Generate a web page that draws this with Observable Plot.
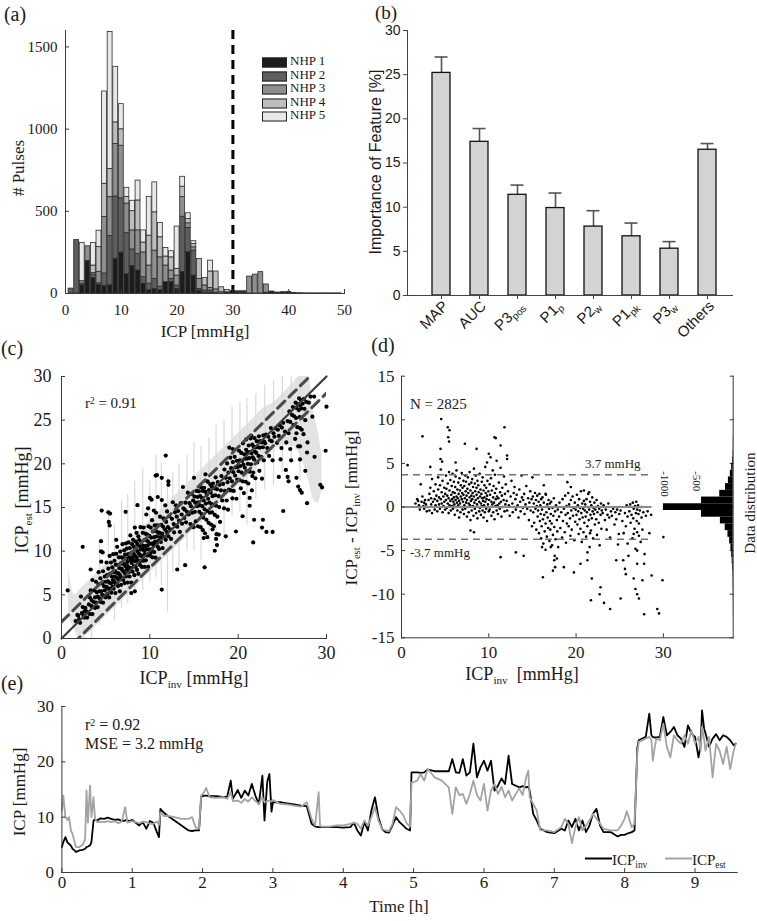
<!DOCTYPE html>
<html>
<head>
<meta charset="utf-8">
<script src="https://cdn.jsdelivr.net/npm/d3@7"></script>
<script src="https://cdn.jsdelivr.net/npm/@observablehq/plot@0.6"></script>
<style>
  html,body{margin:0;padding:0;background:#fff;}
  #fig{position:relative;width:757px;height:921px;overflow:hidden;background:#fff;color:#1a1a1a;}
  #fig svg{position:absolute;}
  .lbl{position:absolute;white-space:nowrap;line-height:1;color:#1a1a1a;}
  .lbl sub{font-size:0.62em;vertical-align:baseline;position:relative;top:0.32em;}
  .lbl sup{font-size:0.62em;vertical-align:baseline;position:relative;top:-0.45em;}
</style>
</head>
<body>
<div id="fig"></div>
<script>
// ---------------- DATA ----------------
// (a) histogram of ICP per animal (bins centred on 1..49 mmHg)
const seriesNames = ["NHP 1","NHP 2","NHP 3","NHP 4","NHP 5"];
const seriesColors = ["#1c1c1c","#5e5e5e","#8f8f8f","#bebebe","#e8e8e8"];
const histBins = [1,2,3,4,5,6,7,8,9,10,11,12,13,14,15,16,17,18,19,20,21,22,23,24,25,26,27,28,29,30,31,32,33,34,35,36,37,38,39,40,41,42,43,44,45,46,47,48,49];
const nhp1 = [0,0,50,198,95,52,47,50,212,249, 117,168,140,60,20,28,20,69,69,28, 130,251,109,18,5,5,5,0,7,14, 6,6,0,0,0,5,12,6,8,10, 4,2,1,1,1,1,1,1,1];
const nhp2 = [30,325,10,0,20,10,75,300,378,330, 250,100,100,40,40,61,22,0,20,20, 337,148,152,10,13,13,0,0,0,0, 0,0,0,0,0,0,0,0,0,0, 0,0,0,0,0,0,0,0,0];
const nhp3 = [0,0,15,89,10,70,344,236,320,320, 180,116,144,150,110,172,178,101,51,61, 120,28,20,60,31,16,20,8,0,0, 4,4,103,115,130,50,0,0,0,0, 0,0,0,0,0,0,0,0,0];
const nhp4 = [0,0,0,0,45,150,202,172,131,100, 40,117,182,60,182,233,122,55,80,41, 63,26,20,122,46,100,109,30,15,0, 4,4,0,0,0,0,0,0,0,0, 0,0,0,0,0,0,0,0,0];
const nhp5 = [0,0,233,0,138,100,561,833,338,153, 56,63,121,74,236,182,87,52,37,257, 60,35,17,0,0,66,0,0,0,0, 0,0,0,0,0,0,0,0,0,0, 0,0,0,0,0,0,0,0,0];
const histXTicks = [0,10,20,30,40,50];
const histYTicks = [0,500,1000,1500];
const icpThreshold = 30;

// (b) feature importance
const featureKeys = ["MAP","AUC","P3pos","P1p","P2w","P1pk","P3w","Others"];
const featureBase = ["MAP","AUC","P3","P1","P2","P1","P3","Others"];
const featureSub  = ["","","pos","p","w","pk","w",""];
const importance    = [25.2,17.4,11.4,9.9,7.8,6.7,5.3,16.5];
const importanceErr = [1.8,1.5,1.1,1.7,1.8,1.5,0.8,0.7];
const importanceTicks = [0,5,10,15,20,25,30];

// (c)/(d) test pulses: [ICP_inv, ICP_est - ICP_inv]
const icpPairs = [
 [2.4,8.1],[4.55,10.1],[5.3,9.15],[5.5,8.8],[5.35,8.0],[5.45,7.5],[7.26,7.25],[4.47,6.67],[8.6,6.67],[10.66,8.0],
 [11.35,7.05],[11.8,9.15],[10.8,7.9],[12.1,5.9],[12.1,5.5],[10.0,6.1],[10.2,5.7],[9.8,5.1],[3.3,4.6],[4.47,5.5],
 [4.66,5.2],[6.2,5.1],[0.7,4.8],[15,3.4],[16.3,2.5],[19,2.85],[16.5,1.5],[19.4,2.3],[20.9,1.9],[21.5,1.7],
 [7.9,-2.7],[8.3,-2.9],[11.35,-5.75],[13.1,-5.2],[14.0,-5.6],[16.2,-8.05],[17.35,-7.3],[17.6,-6.9],[18.6,-6.9],[17.5,-6.1],
 [17.8,-5.9],[17.1,-4.6],[16.1,-4.6],[19.75,-7.5],[20.5,-6.5],[21.3,-6.1],[21.8,-8.2],[21.7,-10.7],[22.8,-9.2],[22.7,-10],
 [23.2,-11],[23.9,-11.7],[24.6,-6.1],[25.1,-10.5],[25.4,-6.1],[25.7,-7.7],[25.6,-7.1],[26.6,-8.2],[26.8,-9.4],[27,-10],
 [27.2,-10.5],[27,-6.5],[27.8,-6.5],[27.6,-8.4],[27.8,-12.3],[28.65,-7.85],[29.3,-11.7],[29.5,-12.2],[29.9,-8.4],[30,-3.45],
 [25.9,-4.2],[26.6,-3.1],[27.2,-3.3],[27,-5],[24.9,-3.1],
 [1.6,0.4],[1.8,0.9],[2.0,0.2],[2.1,-0.3],[2.3,0.6],[2.4,1.2],[2.5,0.1],[2.6,-0.2],[2.7,0.8],[2.8,0.3],[2.9,-0.5],[2.2,2.6],[1.9,0.7],[2.6,0.5],[3.0,0.0],
 [3.1,0.8],[3.2,1.5],[3.2,-0.4],[3.3,2.2],[3.4,0.3],[3.4,1.0],[3.5,-0.7],[3.5,3.2],[3.6,0.6],[3.7,1.8],[3.8,-0.3],[3.8,0.9],[3.9,2.6],[3.9,0.2],[4.0,1.3],
 [4.1,-0.5],[4.1,0.7],[4.2,2.0],[4.2,3.4],[4.3,0.3],[4.3,1.1],[4.4,-0.2],[4.4,2.5],[4.5,0.9],[4.5,4.3],[4.6,0.4],[4.6,1.7],[4.7,-0.6],[4.7,3.0],[4.8,1.2],[4.8,0.1],[4.9,2.2],[4.9,0.6],[5.0,-0.3],[5.0,1.5],
 [5.1,0.8],[5.1,3.6],[5.15,2.1],[5.2,-0.1],[5.25,1.3],[5.3,0.4],[5.3,2.7],[5.4,-0.7],[5.4,1.0],[5.45,4.0],[5.5,0.2],[5.5,1.9],[5.6,0.7],[5.6,3.1],[5.65,-0.4],[5.7,1.4],[5.75,2.4],[5.8,0.1],[5.8,0.9],[5.85,3.8],[5.9,1.7],[5.9,-0.2],[5.95,0.6],[6.0,2.9],[6.0,1.1],
 [6.05,0.3],[6.1,1.6],[6.1,-0.9],[6.15,2.3],[6.2,0.8],[6.2,3.5],[6.25,0.0],[6.3,1.2],[6.3,4.2],[6.35,0.5],[6.4,2.0],[6.4,-0.4],[6.45,1.0],[6.5,2.8],[6.5,0.2],[6.55,1.5],[6.6,-1.2],[6.6,0.7],[6.65,3.3],[6.7,1.9],[6.7,0.4],[6.75,-0.6],[6.8,1.2],[6.8,2.5],[6.85,0.0],[6.9,3.9],[6.9,0.9],[6.95,1.6],[7.0,-0.3],[7.0,2.2],
 [7.05,0.6],[7.1,1.4],[7.1,3.0],[7.15,-0.8],[7.2,0.2],[7.2,2.4],[7.25,1.0],[7.3,3.6],[7.3,-0.2],[7.35,1.8],[7.4,0.5],[7.4,2.9],[7.45,1.3],[7.5,-1.1],[7.5,0.8],[7.55,2.1],[7.6,0.0],[7.6,3.4],[7.65,1.6],[7.7,0.4],[7.7,-0.6],[7.75,2.6],[7.8,1.1],[7.8,4.0],[7.85,0.2],[7.9,1.9],[7.9,-1.5],[7.95,0.7],[8.0,2.8],[8.0,1.3],
 [8.05,-0.4],[8.1,0.9],[8.1,3.2],[8.15,1.6],[8.2,0.1],[8.2,2.3],[8.25,-1.0],[8.3,1.2],[8.3,4.4],[8.35,0.5],[8.4,2.7],[8.4,-0.2],[8.45,1.8],[8.5,0.8],[8.5,3.6],[8.55,-0.7],[8.6,1.4],[8.6,2.2],[8.65,0.3],[8.7,3.0],[8.7,-1.3],[8.75,1.0],[8.8,0.0],[8.8,2.5],[8.85,1.7],[8.9,-0.5],[8.9,0.6],[8.95,3.8],[9.0,1.2],[9.0,-0.1],
 [9.05,2.0],[9.1,0.4],[9.1,-0.9],[9.15,1.5],[9.2,2.9],[9.2,0.1],[9.25,1.0],[9.3,-0.4],[9.3,3.4],[9.35,0.7],[9.4,1.9],[9.4,-1.2],[9.45,0.2],[9.5,2.5],[9.5,1.1],[9.55,-0.6],[9.6,0.6],[9.6,4.6],[9.65,1.6],[9.7,-0.2],[9.7,2.2],[9.75,0.9],[9.8,-1.6],[9.8,1.3],[9.85,3.0],[9.9,0.3],[9.95,1.8],[10.0,-0.5],
 [10.05,0.8],[10.1,2.6],[10.1,-0.3],[10.15,1.4],[10.2,0.0],[10.25,3.3],[10.3,0.6],[10.3,-1.0],[10.35,1.9],[10.4,0.3],[10.45,4.2],[10.5,1.1],[10.5,-0.6],[10.55,2.4],[10.6,0.5],[10.65,-1.4],[10.7,1.6],[10.7,3.7],[10.75,0.1],[10.8,0.9],[10.85,2.1],[10.9,-0.4],[10.9,5.3],[10.95,1.2],[11.0,0.2],
 [11.05,-0.8],[11.1,1.0],[11.15,2.8],[11.2,0.4],[11.25,-0.2],[11.3,1.7],[11.35,4.5],[11.4,0.6],[11.45,-1.1],[11.5,1.3],[11.55,2.2],[11.6,0.0],[11.7,0.8],[11.75,3.5],[11.8,-0.5],[11.85,1.5],[11.9,0.3],[11.95,2.6],
 [12.05,0.7],[12.1,-0.4],[12.2,1.8],[12.3,0.2],[12.4,-1.0],[12.5,1.2],[12.6,3.0],[12.7,0.4],[12.75,-0.6],[12.85,1.6],[12.9,0.0],[12.95,2.3],
 [13.05,0.9],[13.1,-0.3],[13.2,1.4],[13.3,0.2],[13.4,-1.2],[13.5,2.0],[13.6,0.6],[13.65,-0.5],[13.75,3.6],[13.8,1.1],[13.9,-0.1],[13.95,0.8],
 [14.05,1.5],[14.1,-0.8],[14.2,0.3],[14.3,2.4],[14.4,-0.2],[14.5,1.0],[14.6,-1.5],[14.65,0.5],[14.75,1.8],[14.8,-0.4],[14.9,0.9],[14.95,-2.2],
 [15.05,1.2],[15.1,-0.6],[15.15,0.4],[15.2,-1.8],[15.3,1.6],[15.35,-0.2],[15.4,0.8],[15.45,-2.6],[15.5,0.1],[15.55,1.3],[15.6,-1.1],[15.65,-0.4],[15.7,0.6],[15.75,-3.0],[15.8,1.5],[15.85,-1.6],[15.9,0.2],[15.95,-0.8],[16.0,-3.6],[16.0,0.9],
 [16.05,-2.2],[16.1,-0.3],[16.15,1.1],[16.2,-1.4],[16.25,-4.2],[16.3,0.5],[16.35,-0.9],[16.4,-2.8],[16.45,0.0],[16.5,-1.9],[16.55,1.4],[16.6,-0.6],[16.65,-3.4],[16.7,0.3],[16.75,-1.2],[16.8,-2.4],[16.85,0.8],[16.9,-0.2],[16.95,-3.9],[17.0,-1.6],[17.0,0.4],[16.5,-4.9],
 [17.05,-2.6],[17.1,-0.8],[17.15,0.6],[17.2,-1.9],[17.25,-4.4],[17.3,-0.1],[17.35,-3.2],[17.4,-1.0],[17.45,1.0],[17.5,-2.3],[17.55,-5.6],[17.6,-0.5],[17.65,-3.7],[17.7,0.2],[17.8,-1.5],[17.85,-2.8],[17.9,-0.3],[17.95,-4.6],
 [18.05,-1.1],[18.1,0.5],[18.2,-2.4],[18.3,-0.6],[18.4,-3.5],[18.45,0.9],[18.5,-1.6],[18.6,-0.2],[18.7,-2.9],[18.75,1.3],[18.8,-0.9],[18.85,-4.1],[18.9,0.1],[18.95,-1.9],
 [19.05,-0.7],[19.1,1.6],[19.15,-2.2],[19.2,0.3],[19.3,-1.3],[19.35,-3.3],[19.4,0.8],[19.45,-0.4],[19.5,-2.6],[19.6,1.2],[19.65,-1.0],[19.7,-0.1],[19.8,-3.8],[19.85,0.5],[19.9,-1.7],[19.95,-0.3],
 [20.05,-0.9],[20.1,1.4],[20.15,-2.0],[20.2,0.2],[20.25,-0.5],[20.3,-3.1],[20.35,0.9],[20.4,-1.4],[20.45,-0.1],[20.5,-2.5],[20.55,1.8],[20.6,-0.7],[20.65,-4.0],[20.7,0.4],[20.75,-1.2],[20.8,-0.2],[20.85,-2.9],[20.9,0.7],[20.95,-1.8],[21.0,-0.4],
 [21.05,0.3],[21.1,-1.1],[21.15,-3.4],[21.2,0.9],[21.25,-0.6],[21.3,-2.2],[21.35,0.0],[21.4,1.5],[21.45,-1.5],[21.5,-0.3],[21.55,-4.6],[21.6,0.6],[21.65,-0.9],[21.7,-2.7],[21.75,0.2],[21.8,-1.3],[21.85,1.1],[21.9,-0.5],[21.95,-3.6],[22.0,-0.1],[21.3,-5.2],[21.6,-3.0],
 [22.05,-0.8],[22.1,0.5],[22.15,-2.0],[22.2,-0.3],[22.3,-1.4],[22.35,0.8],[22.4,-3.2],[22.45,-0.6],[22.5,0.1],[22.6,-1.8],[22.65,-0.2],[22.7,-4.4],[22.8,-0.9],[22.85,0.4],[22.9,-2.5],[22.95,-0.4],
 [23.05,-0.7],[23.15,0.2],[23.3,-1.5],[23.4,-0.3],[23.5,-2.6],[23.6,-0.9],[23.7,0.4],[23.8,-1.2],[23.9,-3.5],[24.0,-0.5],
 [24.1,-1.0],[24.25,-0.2],[24.4,-2.0],[24.5,-0.6],[24.6,-1.4],[24.7,-0.3],[24.8,-4.3],[24.95,-0.8],
 [25.1,-0.4],[25.3,-1.6],[25.45,-3.0],[25.6,-0.7],[25.7,-2.2],[25.8,0.2],[25.9,-1.1],[26.0,-5.6],
 [26.1,-0.5],[26.2,0.3],[26.25,-1.8],[26.35,-0.9],[26.45,-3.6],[26.5,0.5],[26.55,-1.3],[26.6,-0.2],[26.7,-2.5],[26.75,0.1],[26.8,-4.8],[26.85,-0.7],[26.9,0.6],[26.95,-1.6],[27.0,-2.9],[27.0,-0.3],
 [27.1,0.2],[27.15,-0.8],[27.2,-1.9],[27.3,-0.4],[27.4,-4.0],[27.45,0.0],[27.5,-1.2],[27.6,-2.6],[27.7,-0.6],[27.85,-5.4],[28.0,-1.0],[28.2,-0.5],[28.4,-3.0],[28.6,-0.9]
];
// (c) grey uncertainty band and vertical spread
const bandX  = [0.8,1.5,2,3,4,5,6,7,8,9,10,11,12,13,14,15,16,17,18,19,20,21,22,23,24,25,26,27,28,28.5,29,29.5];
const bandLo = [2.5,1,0,0.5,1.5,2.5,3.5,4.5,5.5,6.5,7.5,8.5,9.5,10.5,11.5,12.5,13.5,14.5,15.5,16.5,17.5,18.5,19.5,20.5,21.5,22,22,21,18,16,15.5,17];
const bandHi = [8,5,5.5,6.5,7.5,8.5,9.5,10.5,11.5,12.5,13.5,14.5,15.5,16.5,17.5,18.5,19.5,20.5,21.5,22.5,23.5,24.5,25.5,26.5,27,28,29,30,30,26,24,21];
const streakX  = [2.5,3.4,4.3,5.3,6.0,6.8,7.5,8.3,9.2,10.0,10.7,11.3,12.0,12.6,13.3,14.2,15.0,15.8,16.7,17.5,18.4,19.3,20.2,21.0,22.0,23.0,24.0,25.0,26.0,27.0];
const streakLo = [0,0,1.5,3,2,3.5,4,5,5.5,6.5,7,6,3,7.5,8,10,10,9,11,12,11,14,14.5,13,16,17,17.5,19,20,18];
const streakHi = [4.6,6,11,14.5,13,15.8,16.5,18,19.5,18,21,20,18.5,19,20,21,22.5,22,23,24.5,25,26.5,27,27.5,28,29,29.5,30,30,30];
const diagX = [0,30];
const dashOffset = 1.9;
const corrTicks = [0,10,20,30];
const corrYTicks = [0,5,10,15,20,25,30];

// (d) Bland-Altman limits and distribution of differences
const baLimit = 3.7;
const baLineEnd = 28.7;
const baYTicks = [-15,-10,-5,0,5,10,15];
const baXTicks = [0,10,20,30];
const distLo    = [-12.6,-11.0,-9.5,-8.1,-7.33,-6.56,-5.79,-5.02,-4.25,-3.48,-2.71,-1.94,-1.17,-0.40,0.37,1.14,1.91,2.68,3.45,4.22,4.99,5.76,6.53,8.1];
const distHi    = [-11.0,-9.5,-8.1,-7.33,-6.56,-5.79,-5.02,-4.25,-3.48,-2.71,-1.94,-1.17,-0.40,0.37,1.14,1.91,2.68,3.45,4.22,4.99,5.76,6.53,8.1,10.4];
const distCount = [2,3,5,7,11,16,24,36,55,82,125,200,495,1090,495,210,120,75,45,24,12,6,3,1];
const distTicks = [1000,500];

// (e) time course
const timeH = [0,0.02,0.05,0.08,0.1,0.13,0.15,0.18,0.2,0.25,
 0.3,0.33,0.35,0.37,0.4,0.42,0.45,0.47,0.5,0.55,
 0.6,0.65,0.7,0.75,0.8,0.85,0.9,0.93,0.95,1,
 1.05,1.1,1.15,1.2,1.25,1.3,1.35,1.38,1.4,1.45,
 1.5,1.6,1.7,1.8,1.85,1.9,1.95,1.98,2.02,2.05,
 2.1,2.2,2.3,2.35,2.4,2.43,2.5,2.55,2.6,2.65,
 2.7,2.75,2.8,2.85,2.88,2.92,2.95,2.98,3,3.1,
 3.2,3.3,3.4,3.48,3.55,3.6,3.65,3.67,3.7,3.8,
 3.9,4,4.1,4.15,4.2,4.25,4.3,4.35,4.4,4.45,
 4.5,4.55,4.6,4.65,4.7,4.75,4.8,4.85,4.9,4.95,
 4.97,5,5.05,5.1,5.15,5.2,5.3,5.4,5.5,5.55,
 5.6,5.65,5.7,5.75,5.8,5.85,5.9,5.95,6,6.05,
 6.1,6.15,6.2,6.25,6.3,6.35,6.4,6.5,6.55,6.6,
 6.63,6.65,6.7,6.75,6.8,6.9,7,7.1,7.15,7.2,
 7.25,7.3,7.35,7.4,7.45,7.5,7.55,7.6,7.65,7.7,
 7.8,7.9,7.95,8,8.03,8.1,8.14,8.18,8.2,8.3,
 8.35,8.38,8.4,8.42,8.45,8.5,8.55,8.6,8.65,8.7,
 8.75,8.8,8.85,8.9,8.95,9,9.05,9.08,9.1,9.13,
 9.15,9.2,9.25,9.3,9.35,9.4,9.45,9.5,9.55,9.58];
const icpInv = [4.6,5.5,6.4,5.4,5.2,4.8,4.3,4.0,3.7,4.0,
 4.1,4.3,4.6,4.7,4.9,5.5,9.4,9.6,9.4,9.8,
 9.7,9.9,9.7,9.5,9.6,9.3,9.4,9.5,9.2,9.5,
 9.0,8.5,9.1,7.9,9.3,9.0,7.3,6.4,11.5,10.8,
 10.3,9.4,8.5,7.6,7.5,7.6,7.6,13.7,13.9,13.9,
 13.8,13.8,13.6,13.7,16.6,13.3,14.9,13.5,14.8,13.9,
 16.0,13.9,12.4,17.5,9.4,16.5,17.8,11.0,12.7,12.7,
 12.5,12.3,12.1,12.0,8.8,8.3,8.2,8.2,8.2,8.2,
 8.2,8.1,8.2,9.0,7.6,6.7,9.1,7.6,11.2,13.6,
 10.0,7.9,7.3,7.2,8.5,10.0,9.1,8.5,7.9,7.6,
 18.1,18.1,18.1,18.0,18.1,18.6,18.3,18.3,18.3,20.5,
 18.1,18.0,20.5,17.5,18.1,23.3,17.2,19.0,20.2,18.4,
 20.2,14.8,15.7,17.0,16.0,21.1,16.0,15.4,15.6,15.4,
 15.5,14.8,10.6,9.4,7.9,7.3,7.1,7.9,7.6,9.4,
 8.2,9.7,7.6,9.4,7.3,8.5,10.6,11.5,8.5,7.3,
 7.3,6.5,6.8,6.8,7.0,7.3,7.6,22.5,23.9,24.5,
 28.7,24.8,24.5,24.4,24.4,24.5,28.1,24.8,25.4,26.3,
 24.8,24.2,22.7,26.6,25.1,24.5,20.8,23.0,29.3,26.0,
 25.1,22.7,24.2,25.0,23.9,24.8,24.5,23.9,23.0,23.3];
const icpEst = [11.2,13.9,10.0,9.5,10.0,7.5,7.0,5.5,4.6,4.6,
 5.1,6.0,14.8,9.0,15.7,10.0,13.6,9.8,9.1,9.2,
 9.1,9.3,9.1,9.3,8.9,9.2,11.8,9.0,9.1,9.3,
 9.1,8.9,9.2,9.1,8.8,8.8,9.2,8.6,10.9,10.2,
 10.3,10.0,9.7,9.7,10.0,8.2,7.9,13.9,14.5,15.3,
 13.6,13.5,13.6,13.3,14.5,12.9,13.0,12.6,13.3,12.8,
 13.6,12.9,12.4,13.6,12.7,12.9,13.0,12.8,13.1,12.4,
 12.3,12.1,11.9,12.7,9.7,8.5,14.5,8.4,8.3,8.3,
 8.5,8.5,8.8,9.0,8.8,7.9,9.4,8.5,10.0,11.8,
 9.4,7.9,7.6,7.5,8.8,11.8,11.2,10.4,8.9,8.3,
 16.3,16.3,16.6,17.8,16.6,18.7,17.2,16.6,15.4,10.6,
 15.4,14.0,14.2,12.4,14.2,16.6,14.0,13.0,16.0,11.2,
 14.8,16.0,14.2,15.5,13.6,14.8,13.0,15.2,14.0,17.2,
 18.4,13.6,12.4,11.2,7.6,7.6,7.3,8.2,9.7,8.8,
 5.3,8.2,10.0,7.6,8.5,9.4,10.6,9.7,8.8,7.9,
 7.6,7.6,8.5,9.7,11.1,8.2,8.8,21.5,23.6,24.2,
 24.5,24.0,20.2,22.0,24.2,23.9,26.9,22.7,20.8,24.8,
 23.9,23.3,24.8,23.3,25.7,23.3,24.5,22.0,26.3,24.0,
 22.0,24.5,17.2,23.3,22.0,19.6,22.7,18.7,22.0,23.3];
const timeTicks = [0,1,2,3,4,5,6,7,8,9];
const timeYTicks = [0,10,20,30];

// ---------------- HELPERS ----------------
const serif = '"Liberation Serif","Times New Roman",serif';
const sans = '"Liberation Sans",Arial,sans-serif';
const fig = document.getElementById("fig");
const axisCol = "#3a3a3a";

function place(node, left, top) {
  node.style.left = left + "px";
  node.style.top = top + "px";
  fig.appendChild(node);
  return node;
}
function label(html, x, y, opts = {}) {
  const d = document.createElement("div");
  d.className = "lbl";
  d.innerHTML = html;
  d.style.left = x + "px";
  d.style.top = y + "px";
  d.style.fontSize = (opts.size || 16) + "px";
  d.style.fontFamily = opts.font || serif;
  const a = opts.anchor || "middle";
  const tx = a === "start" ? "0" : a === "end" ? "-100%" : "-50%";
  d.style.transform = `translate(${tx},-50%)` + (opts.rotate ? ` rotate(${opts.rotate}deg)` : "");
  fig.appendChild(d);
  return d;
}
const style = (font, size) => ({background: "transparent", fontFamily: font, fontSize: size + "px", color: "#1a1a1a", overflow: "visible"});
const fmt = d => String(d);

// inward (MATLAB-like) ticks + separate labels
function inAxes({xTicks, yTicks, xPad = 6, yPad = 6, rightTicks = false}) {
  const m = [
    Plot.axisX({ticks: xTicks, tickSize: -4, fill: "none", stroke: axisCol}),
    Plot.axisX({ticks: xTicks, tickSize: 0, tickPadding: xPad, tickFormat: fmt, label: null}),
    Plot.axisY({ticks: yTicks, tickSize: -4, fill: "none", stroke: axisCol}),
    Plot.axisY({ticks: yTicks, tickSize: 0, tickPadding: yPad, tickFormat: fmt, label: null})
  ];
  if (rightTicks) m.push(Plot.axisY({anchor: "right", ticks: yTicks, tickSize: -4, fill: "none", stroke: axisCol}));
  return m;
}

// ---------------- (a) ----------------
const histRows = [];
const nhpCounts = [nhp1, nhp2, nhp3, nhp4, nhp5];
histBins.forEach((b, i) => seriesNames.forEach((s, j) => {
  if (nhpCounts[j][i] > 0) histRows.push({bin: b, series: s, count: nhpCounts[j][i]});
}));
const plotA = Plot.plot({
  width: 360, height: 330,
  marginLeft: 65, marginRight: 16, marginTop: 30, marginBottom: 37,
  style: style(serif, 15),
  x: {domain: [0, 50]},
  y: {domain: [0, 1600]},
  color: {domain: seriesNames, range: seriesColors},
  marks: [
    Plot.rect(histRows, Plot.stackY({x: "bin", x1: d => d.bin - 0.44, x2: d => d.bin + 0.44, y: "count", fill: "series", stroke: "#2c2c2c", strokeWidth: 0.8})),
    Plot.ruleX([icpThreshold], {stroke: "#000", strokeWidth: 3, strokeDasharray: "9,6"}),
    Plot.frame({anchor: "left", stroke: axisCol}),
    Plot.frame({anchor: "bottom", stroke: axisCol}),
    ...inAxes({xTicks: histXTicks, yTicks: histYTicks, xPad: 11, yPad: 8})
  ]
});
place(plotA, 0, 0);
seriesNames.forEach((s, i) => {
  label(`<span style="display:inline-block;width:23px;height:8px;border:1px solid #222;background:${seriesColors[i]};vertical-align:middle;margin-right:3px"></span>${s}`,
    262, 61 + i * 13.6, {size: 13, anchor: "start"});
});
label("# Pulses", 18, 168, {size: 17, rotate: -90});
label("ICP [mmHg]", 205, 331, {size: 17});
label("(a)", 15, 14, {size: 20});

// ---------------- (b) ----------------
const featRows = featureKeys.map((k, i) => ({key: k, value: importance[i], err: importanceErr[i]}));
const plotB = Plot.plot({
  width: 387, height: 330,
  marginLeft: 37, marginRight: 25, marginTop: 30, marginBottom: 35,
  style: style(sans, 14),
  x: {domain: featureKeys, paddingInner: 0.536, paddingOuter: 0.456, align: 0.6},
  y: {domain: [0, 30]},
  marks: [
    Plot.ruleX(featRows, {x: "key", y1: "value", y2: d => d.value + d.err, stroke: "#555", strokeWidth: 1.6}),
    Plot.tickY(featRows, {x: "key", y: d => d.value + d.err, stroke: "#555", strokeWidth: 1.6, insetLeft: 2.5, insetRight: 2.5}),
    Plot.barY(featRows, {x: "key", y: "value", fill: "#d3d3d3", stroke: "#111", strokeWidth: 1.3}),
    Plot.frame({anchor: "left", stroke: "#444"}),
    Plot.frame({anchor: "bottom", stroke: "#444"}),
    Plot.axisY({ticks: importanceTicks, tickSize: 4, tickPadding: 3, label: null, stroke: "#444"}),
    Plot.axisX({tickSize: 4, fill: "none", stroke: "#444"})
  ]
});
place(plotB, 370, 0);
{
  const xs = plotB.scale("x");
  const bw = xs.bandwidth || 0;
  const g = d3.select(plotB).append("g").attr("font-family", sans).attr("font-size", 15).attr("fill", "#1a1a1a");
  featureKeys.forEach((k, i) => {
    const t = g.append("text").attr("text-anchor", "end")
      .attr("transform", `translate(${xs.apply(k) + bw / 2 + 8},${307}) rotate(-45)`);
    t.append("tspan").text(featureBase[i]);
    if (featureSub[i]) t.append("tspan").attr("font-size", 10).attr("dy", 3).text(featureSub[i]);
  });
}
label("Importance of Feature [%]", 376, 162, {size: 16, font: sans, rotate: -90});
label("(b)", 386, 12, {size: 19});

// ---------------- (c) ----------------
const bandRows = bandX.map((x, i) => ({x, lo: bandLo[i], hi: bandHi[i]}));
const streakRows = streakX.map((x, i) => ({x, lo: streakLo[i], hi: streakHi[i]}));
const plotC = Plot.plot({
  width: 370, height: 360,
  marginLeft: 61, marginRight: 44, marginTop: 46, marginBottom: 52,
  style: style(serif, 18),
  x: {domain: [0, 30]},
  y: {domain: [0, 30]},
  marks: [
    Plot.areaY(bandRows, {x: "x", y1: "lo", y2: "hi", fill: "#e3e3e3", curve: "monotone-x", clip: true}),
    Plot.ruleX(streakRows, {x: "x", y1: "lo", y2: "hi", stroke: "#dadada", strokeWidth: 1.2}),
    Plot.dot(icpPairs, {x: d => d[0], y: d => d[0] + d[1], r: 2.1, fill: "#000", stroke: null}),
    Plot.line(diagX, {x: d => d, y: d => d, stroke: "#3c3c3c", strokeWidth: 2.2}),
    Plot.line(diagX, {x: d => d, y: d => d + dashOffset, stroke: "#4a4a4a", strokeWidth: 3, strokeDasharray: "10,6", clip: true}),
    Plot.line(diagX, {x: d => d, y: d => d - dashOffset, stroke: "#4a4a4a", strokeWidth: 3, strokeDasharray: "10,6", clip: true}),
    Plot.frame({anchor: "left", stroke: axisCol}),
    Plot.frame({anchor: "bottom", stroke: axisCol}),
    ...inAxes({xTicks: corrTicks, yTicks: corrYTicks, xPad: 8, yPad: 10})
  ]
});
place(plotC, 0, 330);
label("r<sup>2</sup> = 0.91", 85, 403, {size: 15, anchor: "start"});
label("ICP<sub>est</sub> [mmHg]", 22, 500, {size: 18, rotate: -90});
label("ICP<sub>inv</sub> [mmHg]", 194, 678, {size: 18});
label("(c)", 12, 348, {size: 20});

// ---------------- (d) ----------------
const distRows = distCount.map((c, i) => ({count: c, lo: distLo[i], hi: distHi[i]}));
const plotD = Plot.plot({
  width: 387, height: 360,
  marginLeft: 31, marginRight: 24.3, marginTop: 45.7, marginBottom: 52.7,
  style: style(serif, 17),
  x: {domain: [0, 38]},
  y: {domain: [-15, 15]},
  marks: [
    Plot.dot(icpPairs, {x: d => d[0], y: d => d[1], r: 1.3, fill: "#000", stroke: null}),
    Plot.ruleY([0], {x1: 0, x2: baLineEnd, stroke: "#8a8a8a", strokeWidth: 2}),
    Plot.ruleY([baLimit, -baLimit], {x1: 0, x2: baLineEnd, stroke: "#707070", strokeWidth: 1.5, strokeDasharray: "7,5"}),
    Plot.frame({anchor: "left", stroke: axisCol}),
    Plot.frame({anchor: "bottom", stroke: axisCol}),
    Plot.frame({anchor: "right", stroke: axisCol}),
    ...inAxes({xTicks: baXTicks, yTicks: baYTicks, xPad: 8, yPad: 7, rightTicks: true})
  ]
});
place(plotD, 370, 330);
const plotD2 = Plot.plot({
  width: 387, height: 360,
  marginLeft: 291, marginRight: 24.3, marginTop: 45.7, marginBottom: 52.7,
  style: style(serif, 11),
  x: {domain: [1120, 0], axis: null},
  y: {domain: [-15, 15], axis: null},
  marks: [
    Plot.rectX(distRows, {x: "count", y1: "lo", y2: "hi", fill: "#000"}),
    Plot.text(distTicks, {x: d => d, frameAnchor: "top", dy: 95, rotate: 90, textAnchor: "start", text: d => "-" + d, fill: "#1a1a1a"})
  ]
});
place(plotD2, 370, 330);
label("N = 2825", 410, 404, {size: 15, anchor: "start"});
label("3.7 mmHg", 585, 463, {size: 13, anchor: "start"});
label("-3.7 mmHg", 410, 552, {size: 13, anchor: "start"});
label("Data distribution", 750, 503, {size: 15, rotate: -90});
label("ICP<sub>est</sub> - ICP<sub>inv</sub> [mmHg]", 351, 508, {size: 17, rotate: -90});
label("ICP<sub>inv</sub>&nbsp; [mmHg]", 522, 674, {size: 18});
label("(d)", 383, 345, {size: 20});

// ---------------- (e) ----------------
const n = Math.min(timeH.length, icpInv.length, icpEst.length);
const tsRows = timeH.slice(0, n).map((t, i) => ({t, inv: icpInv[i], est: icpEst[i]}));
const plotE = Plot.plot({
  width: 757, height: 231,
  marginLeft: 61.4, marginRight: 20.3, marginTop: 16, marginBottom: 49,
  style: style(serif, 17),
  x: {domain: [0, 9.6]},
  y: {domain: [0, 30]},
  marks: [
    Plot.line(tsRows, {x: "t", y: "inv", stroke: "#000", strokeWidth: 1.8}),
    Plot.line(tsRows, {x: "t", y: "est", stroke: "#a3a3a3", strokeWidth: 1.8}),
    Plot.frame({anchor: "left", stroke: axisCol}),
    Plot.frame({anchor: "bottom", stroke: axisCol}),
    ...inAxes({xTicks: timeTicks, yTicks: timeYTicks, xPad: 3, yPad: 8})
  ]
});
place(plotE, 0, 690);
label("r<sup>2</sup> = 0.92", 85, 725, {size: 16, anchor: "start"});
label("MSE = 3.2 mmHg", 85, 744, {size: 16, anchor: "start"});
label('<span style="display:inline-block;width:27px;border-top:2.5px solid #000;vertical-align:middle;position:relative;top:-3px"></span>ICP<sub>inv</sub>', 585, 860, {size: 15, anchor: "start"});
label('<span style="display:inline-block;width:27px;border-top:2.5px solid #a3a3a3;vertical-align:middle;position:relative;top:-3px"></span>ICP<sub>est</sub>', 665, 860, {size: 15, anchor: "start"});
label("ICP [mmHg]", 19, 792, {size: 17, rotate: -90});
label("Time [h]", 399, 906, {size: 17});
label("(e)", 12, 683, {size: 20});
</script>
</body>
</html>
